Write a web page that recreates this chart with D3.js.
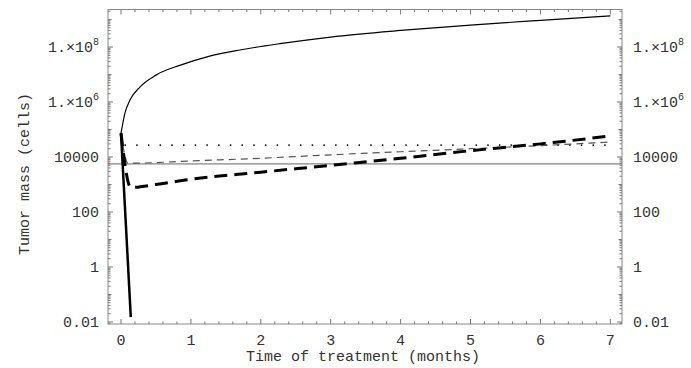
<!DOCTYPE html>
<html>
<head>
<meta charset="utf-8">
<script src="https://cdn.jsdelivr.net/npm/d3@7"></script>
<style>
  body { margin: 0; background: #fff; }
  text { font-family: "Liberation Mono", "DejaVu Sans Mono", monospace; fill: #333; }
</style>
</head>
<body>
<svg id="chart" width="691" height="368"></svg>
<script>
// months
var xTicks = [0, 1, 2, 3, 4, 5, 6, 7];
var yTicks = [0.01, 1, 100, 10000, 1e6, 1e8];

// untreated growth (thin solid)
var growthT = [0, 0.02, 0.057, 0.13, 0.27, 0.5, 0.85, 1.23, 1.7, 2.3, 3, 4, 5, 6, 7];
var growthV = [7.4e4, 1.4e5, 4.0e5, 1.2e6, 3.5e6, 9.5e6, 2.2e7, 4.4e7, 7.8e7, 1.35e8, 2.3e8, 4.0e8, 6.3e8, 9.3e8, 1.35e9];

// thick solid, rapid elimination
var killT = [0, 0.14];
var killV = [7.4e4, 0.015];

// thin horizontal line
var flatT = [-0.186, 7.167];
var flatV = [5600, 5600];

// dotted
var dotT = [0.05, 7];
var dotV = [2.7e4, 2.7e4];

// thin dashed
var thinT = [0, 0.1, 0.2, 1, 2, 3, 4, 5, 6, 7];
var thinV = [7.4e4, 6000, 6000, 7200, 9000, 1.2e4, 1.55e4, 2.0e4, 2.6e4, 3.5e4];

// thick dashed
var thickT = [0, 0.14, 0.5, 1, 2, 3, 4, 5, 6, 7];
var thickV = [7.4e4, 780, 1000, 1550, 2800, 5000, 9000, 1.7e4, 3.0e4, 5.8e4];

var svg = d3.select("#chart");
var pLeft = 108, pRight = 622, pTop = 9.5, pBottom = 324;

var x = d3.scaleLinear().domain([-0.186, 7.167]).range([pLeft, pRight]);
var y = d3.scaleLog().domain([Math.pow(10, -2.073), Math.pow(10, 9.364)]).range([pBottom, pTop]);

// frame
svg.append("rect")
  .attr("x", pLeft).attr("y", pTop)
  .attr("width", pRight - pLeft).attr("height", pBottom - pTop)
  .attr("fill", "none").attr("stroke", "#888").attr("stroke-width", 1);

// x ticks (bottom and top, inward)
var xMinor = d3.range(0, 7.01, 0.2);
xMinor.forEach(function(t) {
  var major = Math.abs(t - Math.round(t)) < 1e-6;
  var len = major ? 5 : 2.5;
  svg.append("line").attr("x1", x(t)).attr("x2", x(t))
    .attr("y1", pBottom).attr("y2", pBottom - len).attr("stroke", "#777");
  svg.append("line").attr("x1", x(t)).attr("x2", x(t))
    .attr("y1", pTop).attr("y2", pTop + len).attr("stroke", "#777");
});

xTicks.forEach(function(t) {
  svg.append("text").attr("x", x(t)).attr("y", 345)
    .attr("text-anchor", "middle").attr("font-size", 15).text(t);
});

// y ticks, left and right
for (var e = -3; e <= 9; e++) {
  for (var m = 1; m <= 9; m++) {
    var v = m * Math.pow(10, e);
    if (v < y.domain()[0] || v > y.domain()[1]) continue;
    var len = m > 1 ? 2.5 : (e % 2 === 0 ? 5 : 3.5);
    svg.append("line").attr("x1", pLeft).attr("x2", pLeft + len)
      .attr("y1", y(v)).attr("y2", y(v)).attr("stroke", "#777");
    svg.append("line").attr("x1", pRight).attr("x2", pRight - len)
      .attr("y1", y(v)).attr("y2", y(v)).attr("stroke", "#777");
  }
}

function yLabel(sel, v) {
  var ex = Math.round(Math.log10(v));
  if (ex >= 6) {
    sel.append("tspan").text("1.\u00d710");
    sel.append("tspan").attr("dy", -7).attr("font-size", 10).text(ex);
  } else {
    sel.text(v === 0.01 ? "0.01" : String(v));
  }
}

yTicks.forEach(function(v) {
  var l = svg.append("text").attr("x", 99).attr("y", y(v) + 5)
    .attr("text-anchor", "end").attr("font-size", 15);
  yLabel(l, v);
  var r = svg.append("text").attr("x", 633).attr("y", y(v) + 5)
    .attr("text-anchor", "start").attr("font-size", 15);
  yLabel(r, v);
});

// axis titles
svg.append("text").attr("x", 363).attr("y", 361)
  .attr("text-anchor", "middle").attr("font-size", 15)
  .text("Time of treatment (months)");
svg.append("text")
  .attr("transform", "translate(29,174) rotate(-90)")
  .attr("text-anchor", "middle").attr("font-size", 15)
  .text("Tumor mass (cells)");

var line = d3.line()
  .x(function(d) { return x(d[0]); })
  .y(function(d) { return y(d[1]); });

function series(ts, vs) {
  return ts.map(function(t, i) { return [t, vs[i]]; });
}

var curved = d3.line().curve(d3.curveMonotoneX)
  .x(function(d) { return x(d[0]); })
  .y(function(d) { return y(d[1]); });

svg.append("path").attr("d", line(series(flatT, flatV)))
  .attr("fill", "none").attr("stroke", "#666").attr("stroke-width", 1);

svg.append("path").attr("d", line(series(dotT, dotV)))
  .attr("fill", "none").attr("stroke", "#222").attr("stroke-width", 1.6)
  .attr("stroke-dasharray", "1.5,10.2");

svg.append("path").attr("d", curved(series(thinT, thinV)))
  .attr("fill", "none").attr("stroke", "#555").attr("stroke-width", 1.2)
  .attr("stroke-dasharray", "7,5");

svg.append("path").attr("d", curved(series(thickT, thickV)))
  .attr("fill", "none").attr("stroke", "#000").attr("stroke-width", 3)
  .attr("stroke-dasharray", "13,7");

svg.append("path").attr("d", line(series(killT, killV)))
  .attr("fill", "none").attr("stroke", "#000").attr("stroke-width", 2.5);

svg.append("path").attr("d", curved(series(growthT, growthV)))
  .attr("fill", "none").attr("stroke", "#000").attr("stroke-width", 1.2);
</script>
</body>
</html>
